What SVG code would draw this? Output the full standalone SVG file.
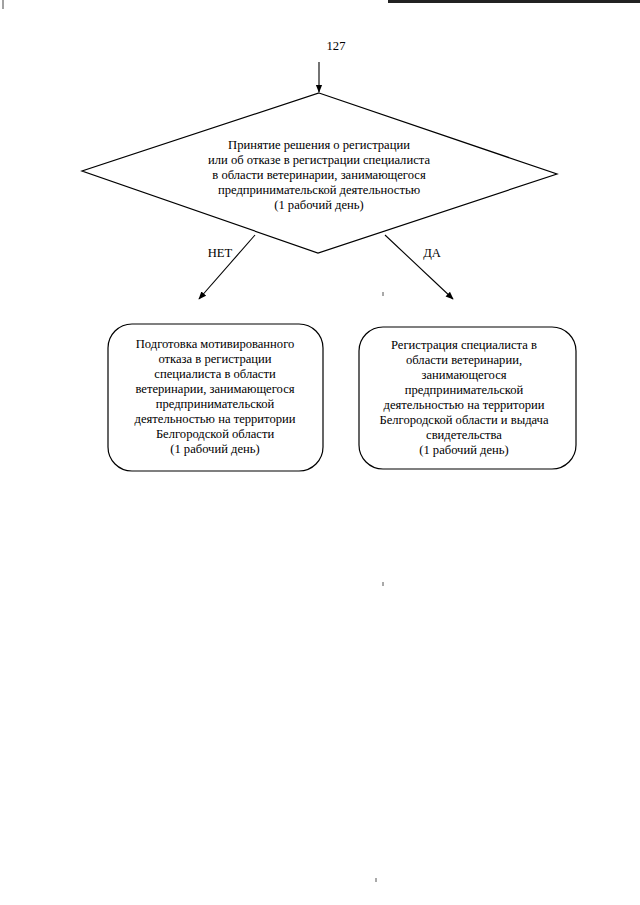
<svg xmlns="http://www.w3.org/2000/svg" width="640" height="905" viewBox="0 0 640 905">
<defs>
<style>
.t{font-family:"Liberation Serif","Times New Roman","DejaVu Serif",serif;font-size:12.6px;fill:#000;text-anchor:middle}
.s{fill:#fff;stroke:#000;stroke-width:1.2}
.c{stroke:#000;stroke-width:1.1;fill:none}
</style>
<marker id="ah" viewBox="0 0 10 10" refX="9" refY="5" markerWidth="8" markerHeight="8" orient="auto" markerUnits="userSpaceOnUse">
<path d="M0,1 L10,5 L0,9 z" fill="#000"/>
</marker>
</defs>
<rect width="640" height="905" fill="#fff"/>
<g id="scan-marks">
<line x1="388" y1="1.5" x2="640" y2="1.5" stroke="#222" stroke-width="3"/>
<line x1="3" y1="0" x2="3" y2="9" stroke="#444" stroke-width="1"/>
<line x1="383" y1="292" x2="383" y2="296" stroke="#555" stroke-width="1"/>
<line x1="383" y1="582" x2="383" y2="586" stroke="#555" stroke-width="1"/>
<line x1="376" y1="878" x2="376" y2="882" stroke="#555" stroke-width="1"/>
</g>
<text class="t" x="336" y="50">127</text>
<g id="connectors">
<line class="c" x1="319" y1="62" x2="319" y2="92" marker-end="url(#ah)"/>
<line class="c" x1="255" y1="235" x2="199" y2="299" marker-end="url(#ah)"/>
<line class="c" x1="385" y1="235" x2="453" y2="299" marker-end="url(#ah)"/>
<text class="t" x="220" y="257">НЕТ</text>
<text class="t" x="432" y="257">ДА</text>
</g>
<g id="decision">
<polygon class="s" points="319,93 557,174 318,253 82,171"/>
<text class="t" x="319" y="149">Принятие решения о регистрации</text>
<text class="t" x="319" y="164">или об отказе в регистрации специалиста</text>
<text class="t" x="319" y="179">в области ветеринарии, занимающегося</text>
<text class="t" x="319" y="194">предпринимательской деятельностью</text>
<text class="t" x="319" y="209">(1 рабочий день)</text>
</g>
<g id="refusal">
<rect class="s" x="108" y="324" width="215" height="147" rx="24" ry="24"/>
<text class="t" x="215" y="348">Подготовка мотивированного</text>
<text class="t" x="215" y="363">отказа в регистрации</text>
<text class="t" x="215" y="378">специалиста в области</text>
<text class="t" x="215" y="393">ветеринарии, занимающегося</text>
<text class="t" x="215" y="408">предпринимательской</text>
<text class="t" x="215" y="423">деятельностью на территории</text>
<text class="t" x="215" y="438">Белгородской области</text>
<text class="t" x="215" y="453">(1 рабочий день)</text>
</g>
<g id="registration">
<rect class="s" x="359" y="327" width="217" height="142" rx="24" ry="24"/>
<text class="t" x="464" y="349">Регистрация специалиста в</text>
<text class="t" x="464" y="364">области ветеринарии,</text>
<text class="t" x="464" y="379">занимающегося</text>
<text class="t" x="464" y="394">предпринимательской</text>
<text class="t" x="464" y="409">деятельностью на территории</text>
<text class="t" x="464" y="424">Белгородской области и выдача</text>
<text class="t" x="464" y="439">свидетельства</text>
<text class="t" x="464" y="454">(1 рабочий день)</text>
</g>
</svg>
